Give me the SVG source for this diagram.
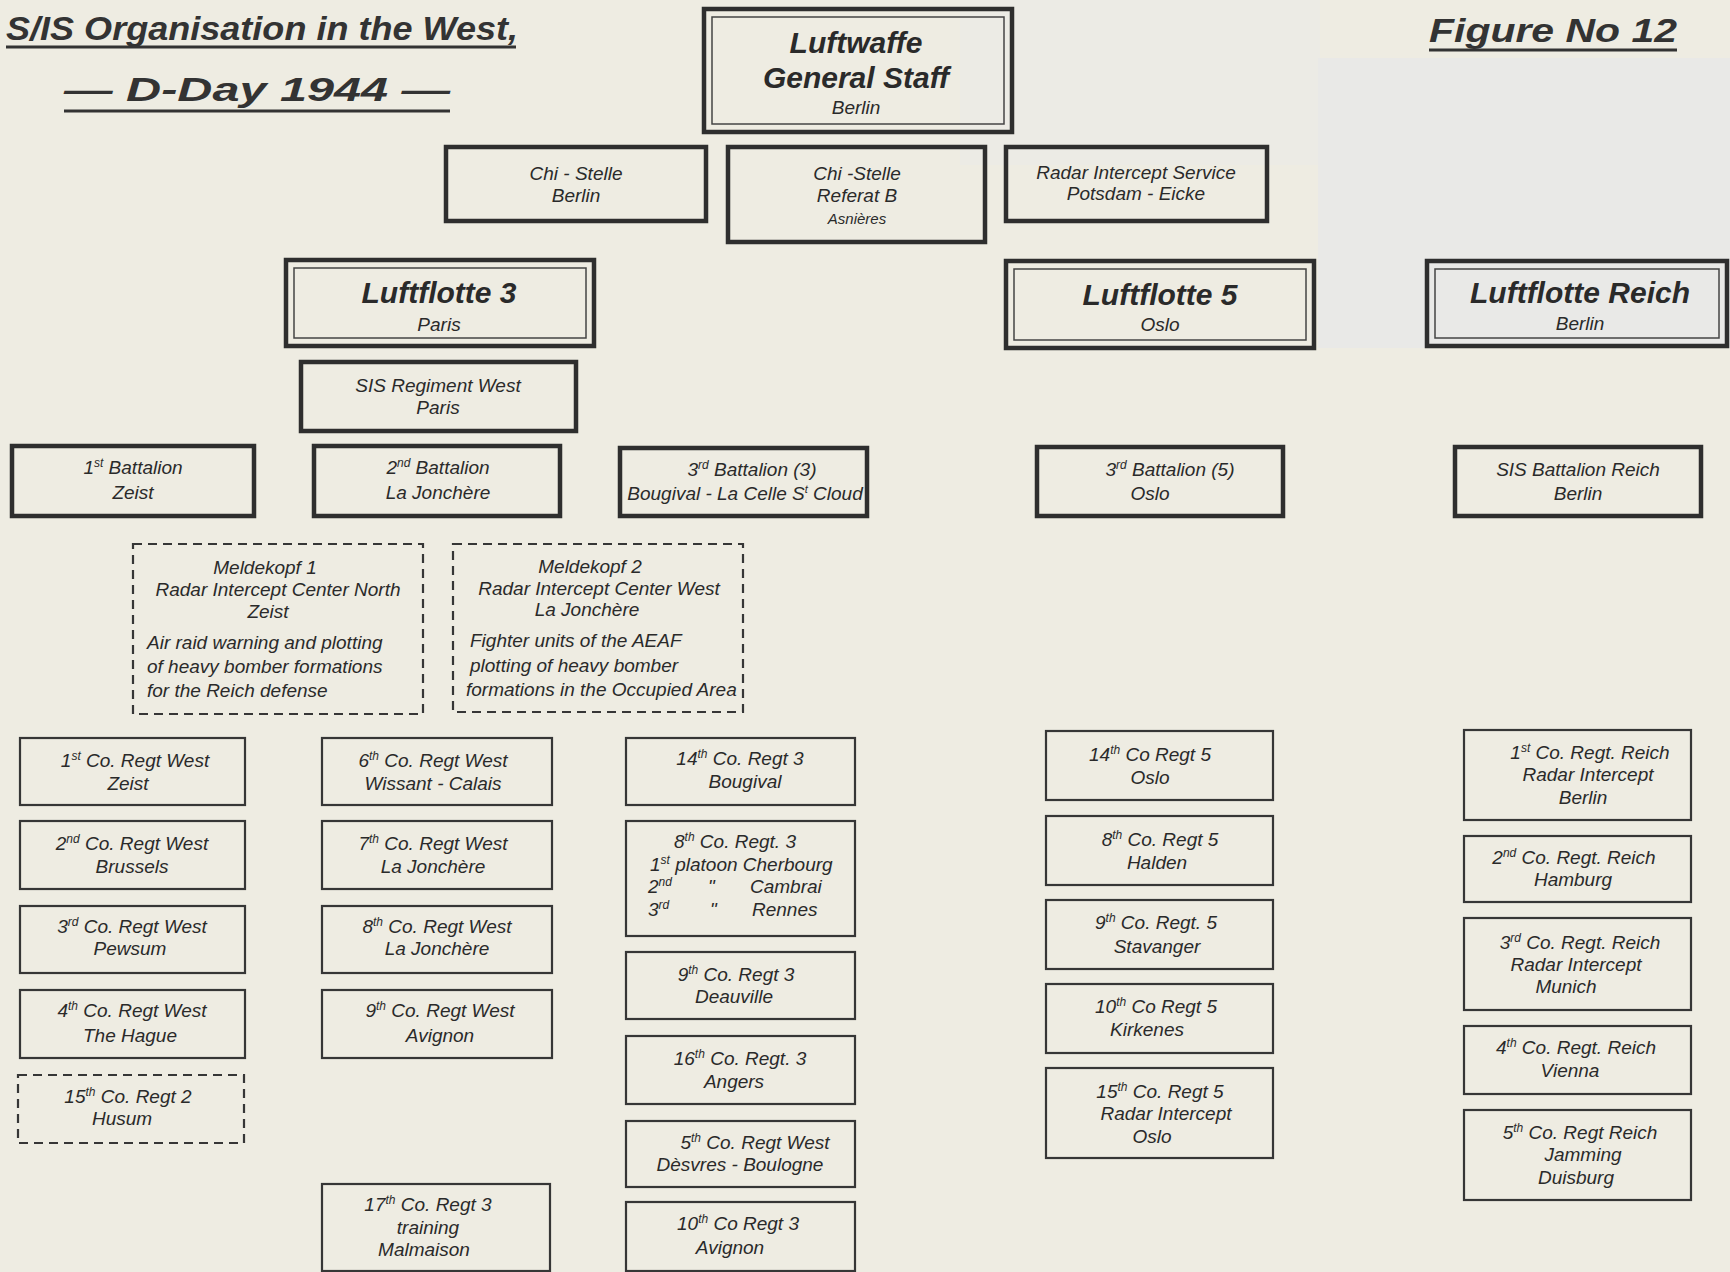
<svg xmlns="http://www.w3.org/2000/svg" width="1730" height="1272" viewBox="0 0 1730 1272">
<style>
.box{fill:none;stroke:#363636;stroke-width:2.2}
.thick{stroke-width:4.5;stroke:#2e2e2e}
.inner{fill:none;stroke:#444;stroke-width:1.5}
.dash{stroke-dasharray:9 6}
.t{font-family:"Liberation Sans",Arial,sans-serif;font-style:italic;fill:#2a2a2a;text-anchor:middle;font-size:19px}
.l{text-anchor:start}
.big{font-size:30px;font-weight:bold}
.hd{font-size:34px;fill:#333;text-anchor:start;font-weight:bold}
.sm{font-size:15px}
.ul{stroke:#333;stroke-width:3}
</style>
<rect width="1730" height="1272" fill="#eeece2"/>
<rect x="960" y="0" width="360" height="165" fill="#ecebe5"/>
<rect x="1318" y="58" width="412" height="290" fill="#e9e9e7"/>

<g id="title">
<text class="t hd" x="6" y="40" textLength="512" lengthAdjust="spacingAndGlyphs">S/IS Organisation in the West,</text>
<line class="ul" x1="6" y1="47" x2="516" y2="47"/>
<text class="t hd" x="64" y="101" font-size="36" textLength="386" lengthAdjust="spacingAndGlyphs">— D-Day 1944 —</text>
<line class="ul" x1="64" y1="111" x2="450" y2="111"/>
</g>
<g id="figno">
<text class="t hd" x="1429" y="42" font-size="38" textLength="248" lengthAdjust="spacingAndGlyphs">Figure No 12</text>
<line class="ul" x1="1429" y1="50" x2="1677" y2="50"/>
</g>

<g id="luftwaffe">
<rect class="box thick" x="704" y="9" width="308" height="123"/>
<rect class="inner" x="712" y="17" width="292" height="107"/>
<text class="t big" x="856" y="53" font-size="28">Luftwaffe</text>
<text class="t big" x="856" y="88" font-size="28">General Staff</text>
<text class="t" x="856" y="114" font-size="18">Berlin</text>
</g>

<g id="chi-berlin">
<rect class="box thick" x="446" y="147" width="260" height="74"/>
<text class="t" x="576" y="180">Chi - Stelle</text>
<text class="t" x="576" y="202">Berlin</text>
</g>
<g id="chi-referat-b">
<rect class="box thick" x="728" y="147" width="257" height="95"/>
<text class="t" x="857" y="180">Chi -Stelle</text>
<text class="t" x="857" y="202">Referat B</text>
<text class="t sm" x="857" y="224">Asnières</text>
</g>
<g id="radar-service">
<rect class="box thick" x="1006" y="147" width="261" height="74"/>
<text class="t" x="1136" y="179" font-size="18">Radar Intercept Service</text>
<text class="t" x="1136" y="200" font-size="18">Potsdam - Eicke</text>
</g>

<g id="luftflotte3">
<rect class="box thick" x="286" y="260" width="308" height="86"/>
<rect class="inner" x="294" y="268" width="292" height="70"/>
<text class="t big" x="439" y="303">Luftflotte 3</text>
<text class="t" x="439" y="331">Paris</text>
</g>
<g id="luftflotte5">
<rect class="box thick" x="1006" y="261" width="308" height="87"/>
<rect class="inner" x="1014" y="269" width="292" height="71"/>
<text class="t big" x="1160" y="305">Luftflotte 5</text>
<text class="t" x="1160" y="331">Oslo</text>
</g>
<g id="luftflotte-reich">
<rect class="box thick" x="1427" y="261" width="300" height="85"/>
<rect class="inner" x="1435" y="269" width="284" height="69"/>
<text class="t big" x="1580" y="303">Luftflotte Reich</text>
<text class="t" x="1580" y="330">Berlin</text>
</g>

<g id="sis-regiment-west">
<rect class="box thick" x="301" y="362" width="275" height="69"/>
<text class="t" x="438" y="392">SIS Regiment West</text>
<text class="t" x="438" y="414">Paris</text>
</g>

<g id="bn1">
<rect class="box thick" x="12" y="446" width="242" height="70" stroke-width="3"/>
<text class="t" x="133" y="474" font-size="20">1<tspan font-size="12" dy="-7">st</tspan><tspan dy="7"> Battalion</tspan></text>
<text class="t" x="133" y="499" font-size="20">Zeist</text>
</g>
<g id="bn2">
<rect class="box thick" x="314" y="446" width="246" height="70"/>
<text class="t" x="438" y="474" font-size="20">2<tspan font-size="12" dy="-7">nd</tspan><tspan dy="7"> Battalion</tspan></text>
<text class="t" x="438" y="499" font-size="20">La Jonchère</text>
</g>
<g id="bn3-3">
<rect class="box thick" x="620" y="448" width="247" height="68"/>
<text class="t" x="752" y="476" font-size="20">3<tspan font-size="12" dy="-7">rd</tspan><tspan dy="7"> Battalion (3)</tspan></text>
<text class="t" x="745" y="500" font-size="19">Bougival - La Celle S<tspan font-size="11" dy="-7">t</tspan><tspan dy="7"> Cloud</tspan></text>
</g>
<g id="bn3-5">
<rect class="box thick" x="1037" y="447" width="246" height="69"/>
<text class="t" x="1170" y="476" font-size="20">3<tspan font-size="12" dy="-7">rd</tspan><tspan dy="7"> Battalion (5)</tspan></text>
<text class="t" x="1150" y="500" font-size="20">Oslo</text>
</g>
<g id="sis-bn-reich">
<rect class="box thick" x="1455" y="447" width="246" height="69" stroke-width="3"/>
<text class="t" x="1578" y="476" font-size="20">SIS Battalion Reich</text>
<text class="t" x="1578" y="500" font-size="20">Berlin</text>
</g>

<g id="meldekopf1">
<rect class="box dash" x="133" y="544" width="290" height="170"/>
<text class="t" x="265" y="574">Meldekopf 1</text>
<text class="t" x="278" y="596" font-size="17">Radar Intercept Center North</text>
<text class="t" x="268" y="618">Zeist</text>
<text class="t l" x="147" y="649" font-size="18">Air raid warning and plotting</text>
<text class="t l" x="147" y="673" font-size="18">of heavy bomber formations</text>
<text class="t l" x="147" y="697" font-size="18">for the Reich defense</text>
</g>
<g id="meldekopf2">
<rect class="box dash" x="453" y="544" width="290" height="168"/>
<text class="t" x="590" y="573">Meldekopf 2</text>
<text class="t" x="599" y="595" font-size="17">Radar Intercept Center West</text>
<text class="t" x="587" y="616">La Jonchère</text>
<text class="t l" x="470" y="647" font-size="18">Fighter units of the AEAF</text>
<text class="t l" x="470" y="672" font-size="18">plotting of heavy bomber</text>
<text class="t l" x="466" y="696" font-size="18">formations in the Occupied Area</text>
</g>

<!-- Column 1 -->
<g id="co1-west">
<rect class="box" x="20" y="738" width="225" height="67"/>
<text class="t" x="135" y="767" font-size="20">1<tspan font-size="12" dy="-7">st</tspan><tspan dy="7"> Co. Regt West</tspan></text>
<text class="t" x="128" y="790" font-size="20">Zeist</text>
</g>
<g id="co2-west">
<rect class="box" x="20" y="821" width="225" height="68"/>
<text class="t" x="132" y="850" font-size="20">2<tspan font-size="12" dy="-7">nd</tspan><tspan dy="7"> Co. Regt West</tspan></text>
<text class="t" x="132" y="873" font-size="20">Brussels</text>
</g>
<g id="co3-west">
<rect class="box" x="20" y="906" width="225" height="67"/>
<text class="t" x="132" y="933" font-size="20">3<tspan font-size="12" dy="-7">rd</tspan><tspan dy="7"> Co. Regt West</tspan></text>
<text class="t" x="130" y="955" font-size="20">Pewsum</text>
</g>
<g id="co4-west">
<rect class="box" x="20" y="990" width="225" height="68"/>
<text class="t" x="132" y="1017" font-size="20">4<tspan font-size="12" dy="-7">th</tspan><tspan dy="7"> Co. Regt West</tspan></text>
<text class="t" x="130" y="1042" font-size="20">The Hague</text>
</g>
<g id="co15-regt2">
<rect class="box dash" x="18" y="1075" width="226" height="68"/>
<text class="t" x="128" y="1103" font-size="20">15<tspan font-size="12" dy="-7">th</tspan><tspan dy="7"> Co. Regt 2</tspan></text>
<text class="t" x="122" y="1125" font-size="18">Husum</text>
</g>

<!-- Column 2 -->
<g id="co6-west">
<rect class="box" x="322" y="738" width="230" height="67"/>
<text class="t" x="433" y="767" font-size="20">6<tspan font-size="12" dy="-7">th</tspan><tspan dy="7"> Co. Regt West</tspan></text>
<text class="t" x="433" y="790" font-size="18">Wissant - Calais</text>
</g>
<g id="co7-west">
<rect class="box" x="322" y="821" width="230" height="68"/>
<text class="t" x="433" y="850" font-size="20">7<tspan font-size="12" dy="-7">th</tspan><tspan dy="7"> Co. Regt West</tspan></text>
<text class="t" x="433" y="873" font-size="19">La Jonchère</text>
</g>
<g id="co8-west">
<rect class="box" x="322" y="906" width="230" height="67"/>
<text class="t" x="437" y="933" font-size="20">8<tspan font-size="12" dy="-7">th</tspan><tspan dy="7"> Co. Regt West</tspan></text>
<text class="t" x="437" y="955" font-size="20">La Jonchère</text>
</g>
<g id="co9-west">
<rect class="box" x="322" y="990" width="230" height="68"/>
<text class="t" x="440" y="1017" font-size="20">9<tspan font-size="12" dy="-7">th</tspan><tspan dy="7"> Co. Regt West</tspan></text>
<text class="t" x="440" y="1042" font-size="20">Avignon</text>
</g>
<g id="co17-regt3">
<rect class="box" x="322" y="1184" width="228" height="87"/>
<text class="t" x="428" y="1211" font-size="20">17<tspan font-size="12" dy="-7">th</tspan><tspan dy="7"> Co. Regt 3</tspan></text>
<text class="t" x="428" y="1234" font-size="19">training</text>
<text class="t" x="424" y="1256" font-size="18">Malmaison</text>
</g>

<!-- Column 3 -->
<g id="co14-regt3">
<rect class="box" x="626" y="738" width="229" height="67"/>
<text class="t" x="740" y="765" font-size="20">14<tspan font-size="12" dy="-7">th</tspan><tspan dy="7"> Co. Regt 3</tspan></text>
<text class="t" x="745" y="788" font-size="19">Bougival</text>
</g>
<g id="co8-regt3">
<rect class="box" x="626" y="821" width="229" height="115"/>
<text class="t" x="735" y="848" font-size="20">8<tspan font-size="12" dy="-7">th</tspan><tspan dy="7"> Co. Regt. 3</tspan></text>
<text class="t l" x="650" y="871" font-size="19">1<tspan font-size="12" dy="-7">st</tspan><tspan dy="7"> platoon Cherbourg</tspan></text>
<text class="t l" x="648" y="893" font-size="19">2<tspan font-size="12" dy="-7">nd</tspan></text>
<text class="t l" x="708" y="893" font-size="19">"</text>
<text class="t l" x="750" y="893" font-size="19">Cambrai</text>
<text class="t l" x="648" y="916" font-size="19">3<tspan font-size="12" dy="-7">rd</tspan></text>
<text class="t l" x="710" y="916" font-size="19">"</text>
<text class="t l" x="752" y="916" font-size="19">Rennes</text>
</g>
<g id="co9-regt3">
<rect class="box" x="626" y="952" width="229" height="67"/>
<text class="t" x="736" y="981" font-size="20">9<tspan font-size="12" dy="-7">th</tspan><tspan dy="7"> Co. Regt 3</tspan></text>
<text class="t" x="734" y="1003" font-size="19">Deauville</text>
</g>
<g id="co16-regt3">
<rect class="box" x="626" y="1036" width="229" height="68"/>
<text class="t" x="740" y="1065" font-size="20">16<tspan font-size="12" dy="-7">th</tspan><tspan dy="7"> Co. Regt. 3</tspan></text>
<text class="t" x="734" y="1088" font-size="19">Angers</text>
</g>
<g id="co5-west">
<rect class="box" x="626" y="1121" width="229" height="66"/>
<text class="t" x="755" y="1149" font-size="20">5<tspan font-size="12" dy="-7">th</tspan><tspan dy="7"> Co. Regt West</tspan></text>
<text class="t" x="740" y="1171" font-size="19">Dèsvres - Boulogne</text>
</g>
<g id="co10-regt3">
<rect class="box" x="626" y="1202" width="229" height="69"/>
<text class="t" x="738" y="1230" font-size="20">10<tspan font-size="12" dy="-7">th</tspan><tspan dy="7"> Co Regt 3</tspan></text>
<text class="t" x="730" y="1254" font-size="19">Avignon</text>
</g>

<!-- Column 4 -->
<g id="co14-regt5">
<rect class="box" x="1046" y="731" width="227" height="69"/>
<text class="t" x="1150" y="761" font-size="20">14<tspan font-size="12" dy="-7">th</tspan><tspan dy="7"> Co Regt 5</tspan></text>
<text class="t" x="1150" y="784" font-size="19">Oslo</text>
</g>
<g id="co8-regt5">
<rect class="box" x="1046" y="816" width="227" height="69"/>
<text class="t" x="1160" y="846" font-size="20">8<tspan font-size="12" dy="-7">th</tspan><tspan dy="7"> Co. Regt 5</tspan></text>
<text class="t" x="1157" y="869" font-size="19">Halden</text>
</g>
<g id="co9-regt5">
<rect class="box" x="1046" y="900" width="227" height="69"/>
<text class="t" x="1156" y="929" font-size="20">9<tspan font-size="12" dy="-7">th</tspan><tspan dy="7"> Co. Regt. 5</tspan></text>
<text class="t" x="1157" y="953" font-size="19">Stavanger</text>
</g>
<g id="co10-regt5">
<rect class="box" x="1046" y="984" width="227" height="69"/>
<text class="t" x="1156" y="1013" font-size="20">10<tspan font-size="12" dy="-7">th</tspan><tspan dy="7"> Co Regt 5</tspan></text>
<text class="t" x="1147" y="1036" font-size="19">Kirkenes</text>
</g>
<g id="co15-regt5">
<rect class="box" x="1046" y="1068" width="227" height="90"/>
<text class="t" x="1160" y="1098" font-size="20">15<tspan font-size="12" dy="-7">th</tspan><tspan dy="7"> Co. Regt 5</tspan></text>
<text class="t" x="1166" y="1120" font-size="18">Radar Intercept</text>
<text class="t" x="1152" y="1143" font-size="18">Oslo</text>
</g>

<!-- Column 5 -->
<g id="co1-reich">
<rect class="box" x="1464" y="730" width="227" height="90"/>
<text class="t" x="1590" y="759" font-size="19">1<tspan font-size="12" dy="-7">st</tspan><tspan dy="7"> Co. Regt. Reich</tspan></text>
<text class="t" x="1588" y="781" font-size="18">Radar Intercept</text>
<text class="t" x="1583" y="804" font-size="18">Berlin</text>
</g>
<g id="co2-reich">
<rect class="box" x="1464" y="836" width="227" height="66"/>
<text class="t" x="1574" y="864" font-size="19">2<tspan font-size="12" dy="-7">nd</tspan><tspan dy="7"> Co. Regt. Reich</tspan></text>
<text class="t" x="1573" y="886" font-size="18">Hamburg</text>
</g>
<g id="co3-reich">
<rect class="box" x="1464" y="918" width="227" height="92"/>
<text class="t" x="1580" y="949" font-size="19">3<tspan font-size="12" dy="-7">rd</tspan><tspan dy="7"> Co. Regt. Reich</tspan></text>
<text class="t" x="1576" y="971" font-size="18">Radar Intercept</text>
<text class="t" x="1566" y="993" font-size="18">Munich</text>
</g>
<g id="co4-reich">
<rect class="box" x="1464" y="1026" width="227" height="68"/>
<text class="t" x="1576" y="1054" font-size="19">4<tspan font-size="12" dy="-7">th</tspan><tspan dy="7"> Co. Regt. Reich</tspan></text>
<text class="t" x="1570" y="1077" font-size="18">Vienna</text>
</g>
<g id="co5-reich">
<rect class="box" x="1464" y="1110" width="227" height="90"/>
<text class="t" x="1580" y="1139" font-size="19">5<tspan font-size="12" dy="-7">th</tspan><tspan dy="7"> Co. Regt Reich</tspan></text>
<text class="t" x="1583" y="1161" font-size="18">Jamming</text>
<text class="t" x="1576" y="1184" font-size="18">Duisburg</text>
</g>

<g id="connectors"></g>
</svg>
